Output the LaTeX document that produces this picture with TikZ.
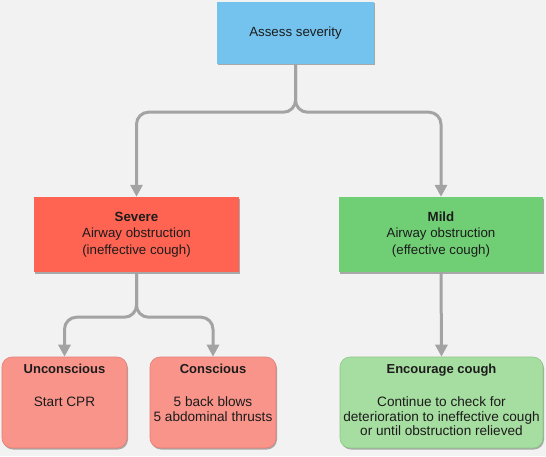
\documentclass[tikz,border=0pt]{standalone}
\usepackage{fontspec}
\setmainfont{Liberation Sans}
\usepackage{xcolor}
\usetikzlibrary{positioning,arrows.meta,shadows}

\definecolor{bgcol}{HTML}{F2F2F2}
\definecolor{bluecol}{HTML}{74C3EE}
\definecolor{redcol}{HTML}{FF6352}
\definecolor{grncol}{HTML}{70CF75}
\definecolor{pinkcol}{HTML}{F9948A}
\definecolor{pinkedge}{HTML}{E27F76}
\definecolor{ltgrncol}{HTML}{A6DDA0}
\definecolor{ltgrnedge}{HTML}{8CC786}
\definecolor{linecol}{HTML}{A3A3A3}
\definecolor{txtcol}{HTML}{1C1C1C}

\begin{document}
\begin{tikzpicture}[x=1pt,y=1pt,
  base/.style={inner sep=0pt,text=txtcol,
    drop shadow={shadow xshift=1pt,shadow yshift=-1.5pt,opacity=0.3,fill=black}},
  sqbox/.style={base,minimum height=75pt,align=center,
    font=\fontsize{13.3}{16.5}\selectfont},
  rndbox/.style={base,minimum height=91pt,rounded corners=10pt,line width=0.6pt},
  head/.style={inner sep=0pt,text=txtcol,font=\fontsize{13}{15}\selectfont\bfseries},
  body/.style={inner sep=0pt,text=txtcol,align=center,
    font=\fontsize{13.6}{14.5}\selectfont},
  conn/.style={draw=linecol,line width=3pt,rounded corners=12pt,
    -{Triangle[length=12pt,width=12pt]}}]
  % background
  \fill[bgcol] (0,0) rectangle (546,456);
  % boxes
  \node[sqbox,fill=bluecol,minimum width=157pt,minimum height=62pt]
    (assess) at (295.5,423) {Assess severity};
  \node[sqbox,fill=redcol,minimum width=205pt] (severe) at (136.5,221.5)
    {\textbf{Severe}\\Airway obstruction\\(ineffective cough)};
  \node[sqbox,fill=grncol,minimum width=204pt] (mild) at (441,221.5)
    {\textbf{Mild}\\Airway obstruction\\(effective cough)};
  \node[rndbox,fill=pinkcol,draw=pinkedge,minimum width=125pt] (uncon) at (64.5,53.5) {};
  \node[rndbox,fill=pinkcol,draw=pinkedge,minimum width=126pt] (consc) at (213,53.5) {};
  \node[rndbox,fill=ltgrncol,draw=ltgrnedge,minimum width=203pt] (cough) at (441.5,53.5) {};
  % texts in the lower boxes
  \foreach \n/\h/\b in {
     uncon/Unconscious/{Start CPR},
     consc/Conscious/{5 back blows\\5 abdominal thrusts},
     cough/Encourage cough/{Continue to check for\\deterioration to ineffective cough\\or until obstruction relieved}}{
    \node[head,below=7.5pt of \n.north] (\n-h) {\h};
    \node[body,below=40pt of \n.north] (\n-b) {\b};
  }
  % connectors
  \coordinate[below=48pt of assess.south] (fork1);
  \coordinate[below=45pt of severe.south] (fork2);
  \foreach \t in {severe,mild}
    \draw[conn] (assess.south) -- (fork1) -| (\t.north);
  \foreach \t in {uncon,consc}
    \draw[conn] (severe.south) -- (fork2) -| (\t.north);
  \draw[conn] (mild.south) -- (cough.north);
\end{tikzpicture}
\end{document}
